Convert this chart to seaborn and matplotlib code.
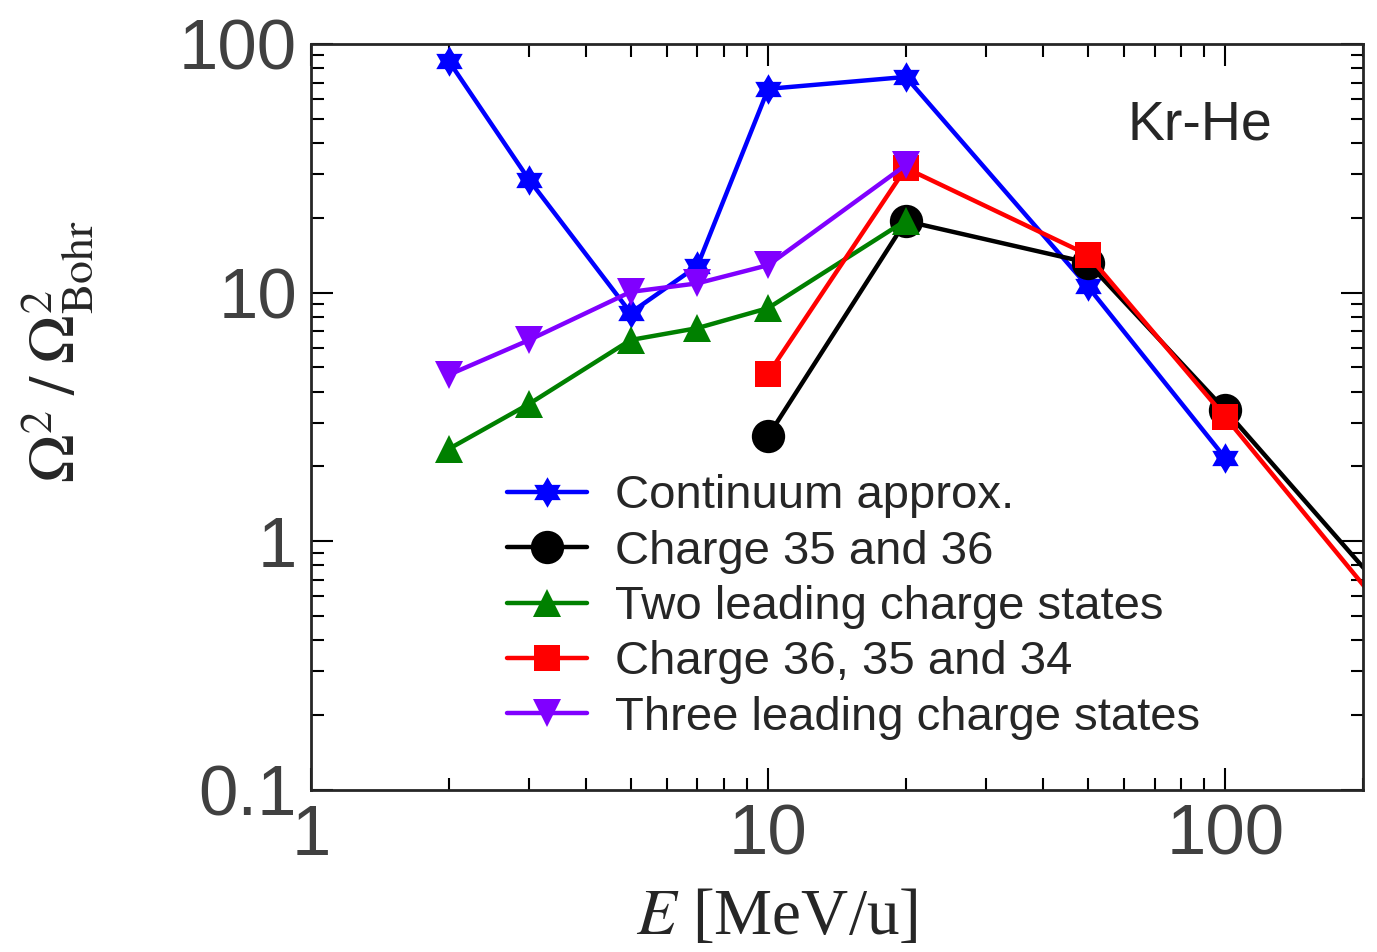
#Kr-He: Omega^2 / Omega_Bohr^2 vs energy, five approximations
import numpy as np
import pandas as pd
import matplotlib
matplotlib.use('Agg')
import matplotlib.pyplot as plt
import matplotlib.ticker as mticker
from matplotlib.path import Path
import seaborn as sns

#data
e_continuum = [2, 3, 5, 7, 10, 20, 50, 100]
y_continuum = [85.5, 28.4, 8.3, 12.8, 66, 73.7, 10.6, 2.16]

e_charge_35_36 = [10, 20, 50, 100, 500]
y_charge_35_36 = [2.65, 19.4, 13.2, 3.37, 0.115]

e_two_leading = [2, 3, 5, 7, 10, 20]
y_two_leading = [2.35, 3.57, 6.45, 7.2, 8.67, 19.5]

e_charge_36_35_34 = [10, 20, 50, 100, 500]
y_charge_36_35_34 = [4.71, 31.7, 14.2, 3.16, 0.086]

e_three_leading = [2, 3, 5, 7, 10, 20]
y_three_leading = [4.67, 6.45, 10.07, 10.9, 12.9, 32.6]

labels = ['Continuum approx.', 'Charge 35 and 36', 'Two leading charge states',
          'Charge 36, 35 and 34', 'Three leading charge states']
colors = ['#0000ff', '#000000', '#008000', '#ff0000', '#8000ff']

#six pointed star marker (two triangles)
ang1 = np.pi / 2 + np.array([0, 2, 4, 0]) * np.pi / 3
ang2 = -np.pi / 2 + np.array([0, 2, 4, 0]) * np.pi / 3
verts = np.concatenate([np.c_[np.cos(ang1), np.sin(ang1)], np.c_[np.cos(ang2), np.sin(ang2)]])
codes = [Path.MOVETO, Path.LINETO, Path.LINETO, Path.CLOSEPOLY] * 2
hexagram = Path(verts, codes)

markers = [hexagram, 'o', '^', 's', 'v']
msizes = [22, 24, 20, 19, 20]

series = [(e_continuum, y_continuum), (e_charge_35_36, y_charge_35_36),
          (e_two_leading, y_two_leading), (e_charge_36_35_34, y_charge_36_35_34),
          (e_three_leading, y_three_leading)]

sns.set_style('ticks')
plt.rcParams['font.family'] = ['Liberation Sans', 'DejaVu Sans']
plt.rcParams['mathtext.fontset'] = 'stix'

fig = plt.figure(figsize=(13.77, 9.52), dpi=100)
ax = fig.add_axes([0.2259, 0.1702, 0.7639, 0.7836])

for (e, y), lab, c, m, ms in zip(series, labels, colors, markers, msizes):
    df = pd.DataFrame({'E': e, 'val': y})
    sns.lineplot(data=df, x='E', y='val', ax=ax, color=c, marker=m, markersize=ms,
                 markeredgewidth=0, label=lab, sort=False)
for ln in ax.lines:
    ln.set_linewidth(3.2)

ax.set_xscale('log')
ax.set_yscale('log')
ax.set_xlim(1, 200)
ax.set_ylim(0.1, 100)

fmt = mticker.FuncFormatter(lambda v, p: f'{v:g}')
ax.xaxis.set_major_formatter(fmt)
ax.yaxis.set_major_formatter(fmt)
ax.xaxis.set_minor_formatter(mticker.NullFormatter())
ax.yaxis.set_minor_formatter(mticker.NullFormatter())

ax.tick_params(which='both', direction='in', top=True, right=True, width=1.5,
               colors='black', labelcolor='#404040', labelsize=51, pad=10)
ax.tick_params(which='major', length=16)
ax.tick_params(which='minor', length=9)
for sp in ax.spines.values():
    sp.set_linewidth(2)

ax.set_xlabel(r'$E$ [MeV/u]', fontsize=47, family='Liberation Serif', va='center')
ax.xaxis.set_label_coords(0.443, -0.172)
ax.set_ylabel(r'$\Omega^2\;/\;\Omega^2_{\rm Bohr}$', fontsize=47, va='center')
ax.yaxis.set_label_coords(-0.241, 0.587)

ax.text(0.845, 0.891, 'Kr-He', transform=ax.transAxes, fontsize=40,
        ha='center', va='center')

leg = ax.legend(loc='upper left', bbox_to_anchor=(0.186, 0.423), frameon=False,
                fontsize=34, handlelength=1.7, handletextpad=0.6, labelspacing=0.24,
                borderpad=0, borderaxespad=0)
for h in leg.get_lines():
    h.set_linewidth(3.2)

fig.savefig('out.png', dpi=100)
